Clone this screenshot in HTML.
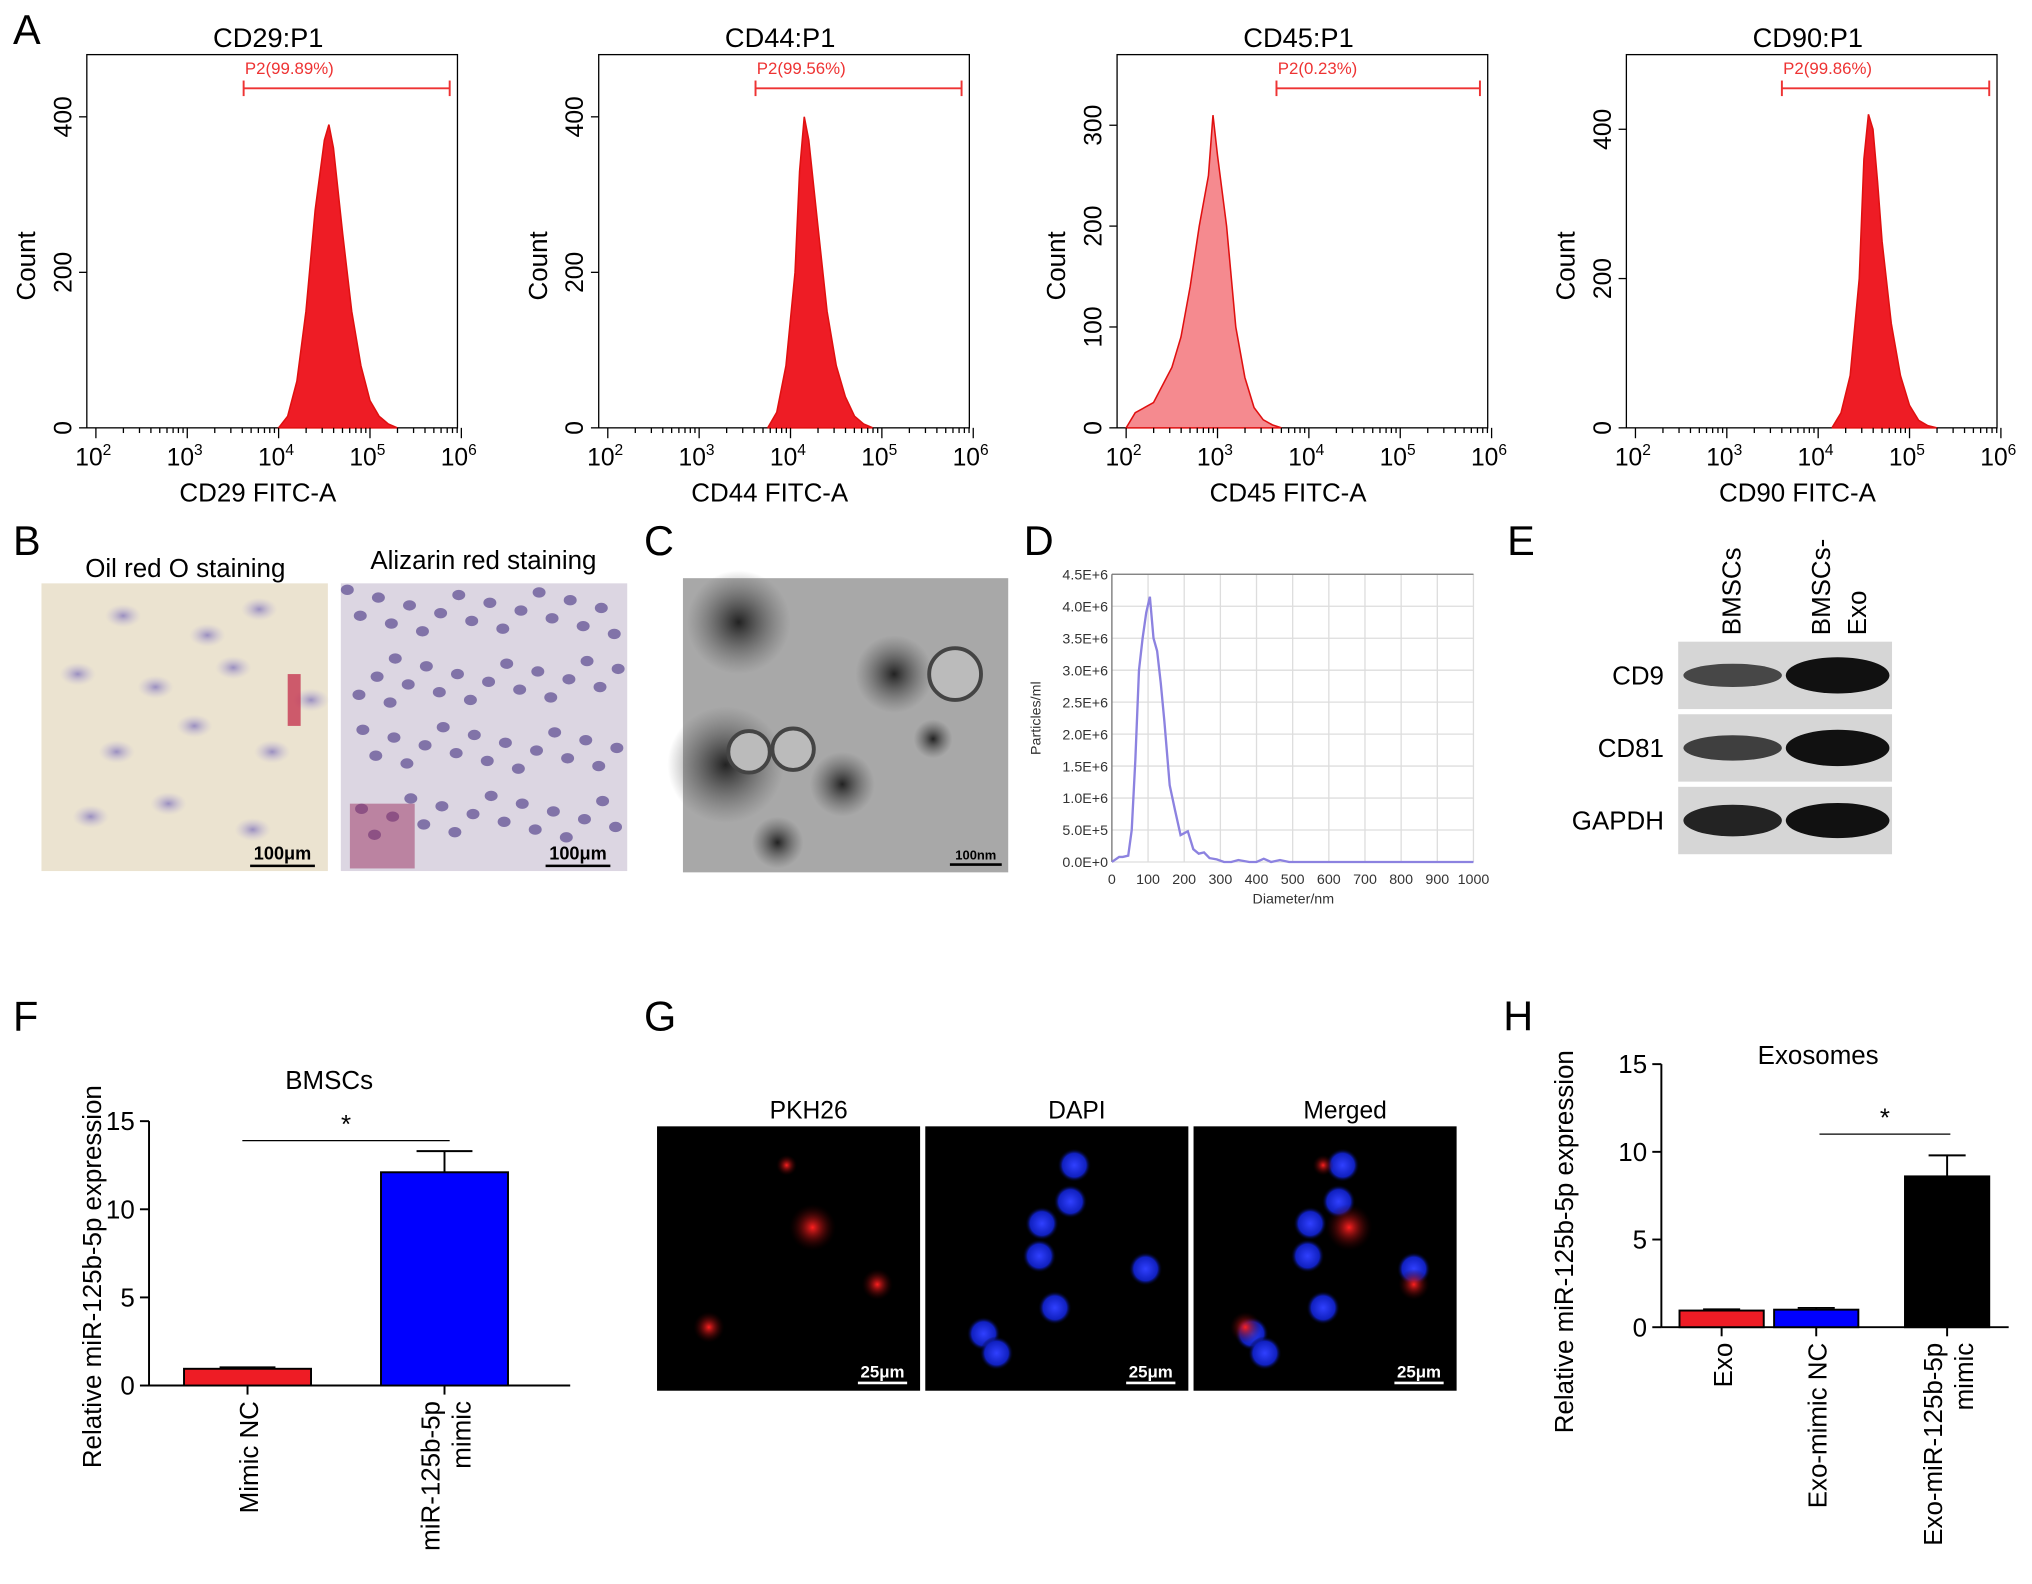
<!DOCTYPE html>
<html><head><meta charset="utf-8"><style>
html,body{margin:0;padding:0;background:#fff;}
svg{display:block;font-family:"Liberation Sans",Arial,sans-serif;}
</style></head><body>
<svg id="fig" width="2032" height="1584" viewBox="0 0 1568 1222" xmlns="http://www.w3.org/2000/svg">
<defs>
<radialGradient id="cellg"><stop offset="0" stop-color="#9a8fc0"/><stop offset="1" stop-color="#c9c0d8" stop-opacity="0"/></radialGradient>
<radialGradient id="dark"><stop offset="0" stop-color="#222"/><stop offset="1" stop-color="#555" stop-opacity="0"/></radialGradient>
<radialGradient id="bluec"><stop offset="0" stop-color="#3040ff"/><stop offset="0.7" stop-color="#1020c0"/><stop offset="1" stop-color="#000" stop-opacity="0"/></radialGradient>
<radialGradient id="redc"><stop offset="0" stop-color="#ff2020"/><stop offset="1" stop-color="#300" stop-opacity="0"/></radialGradient>
</defs>
<g id="root"></g>
</svg>
<script>
// ---------- Panel A data (log10 intensity, counts) ----------
const histNames = ["CD29","CD44","CD45","CD90"];
const histGates = ["P2(99.89%)","P2(99.56%)","P2(0.23%)","P2(99.86%)"];
const histLogX = [
 [4.0,4.1,4.2,4.3,4.4,4.5,4.55,4.6,4.7,4.8,4.9,5.0,5.1,5.2,5.3],
 [3.75,3.85,3.95,4.05,4.1,4.15,4.2,4.3,4.4,4.5,4.6,4.7,4.8,4.9],
 [2.0,2.1,2.3,2.5,2.6,2.7,2.8,2.9,2.95,3.0,3.1,3.2,3.3,3.4,3.5,3.6,3.7],
 [4.15,4.25,4.35,4.45,4.5,4.55,4.6,4.65,4.7,4.8,4.9,5.0,5.1,5.2,5.3]
];
const histCounts = [
 [0,15,60,150,280,370,390,360,250,150,80,35,15,5,0],
 [0,20,80,200,330,400,370,260,150,80,40,15,5,0],
 [0,15,25,60,90,140,200,250,310,270,200,100,50,20,8,3,0],
 [0,20,70,200,360,420,400,330,250,140,70,30,10,3,0]
];
const histYTicks = [[0,200,400],[0,200,400],[0,100,200,300],[0,200,400]];
const histYMax = [480,480,370,500];
const histFill = ["#ee1c25","#ee1c25","#f58a8f","#ee1c25"];

// ---------- Panel D data ----------
const nanoX = [0,20,30,45,55,65,75,85,95,105,115,125,135,145,160,175,190,200,210,225,240,255,270,290,310,330,350,380,400,420,440,465,490,600,800,1000];
const nanoY = [0,0.08,0.08,0.1,0.5,1.6,3.0,3.5,3.9,4.15,3.5,3.3,2.8,2.2,1.2,0.8,0.42,0.45,0.48,0.2,0.13,0.15,0.06,0.04,0,0,0.03,0,0,0.05,0,0.03,0,0,0,0];
const nanoYTicks = ["0.0E+0","5.0E+5","1.0E+6","1.5E+6","2.0E+6","2.5E+6","3.0E+6","3.5E+6","4.0E+6","4.5E+6"];
const nanoXTicks = [0,100,200,300,400,500,600,700,800,900,1000];

// ---------- Panel F data ----------
const fCats = ["Mimic NC","miR-125b-5p|mimic"];
const fVals = [0.95,12.1];
const fErr = [0.08,1.2];
const fColors = ["#ee1c25","#0000ff"];
const fTicks = [0,5,10,15];

// ---------- Panel H data ----------
const hCats = ["Exo","Exo-mimic NC","Exo-miR-125b-5p|mimic"];
const hVals = [0.95,1.0,8.6];
const hErr = [0.07,0.1,1.2];
const hColors = ["#ee1c25","#0000ff","#000000"];
const hTicks = [0,5,10,15];

const NS="http://www.w3.org/2000/svg";
const root=document.getElementById('root');
function el(tag,attrs,parent,text){const e=document.createElementNS(NS,tag);for(const k in attrs)e.setAttribute(k,attrs[k]);if(text!==undefined)e.textContent=text;(parent||root).appendChild(e);return e;}

[["A",10,34],["B",10,428],["C",497,428],["D",790,428],["E",1163,428],["F",10,795],["G",497,795],["H",1160,795]].forEach(p=>{
 const t=el('text',{x:p[1],y:p[2],'font-size':32},root,p[0]);
 
 
});

// ---------- Panel A ----------
const frames=[67,462,862,1255];
for(let i=0;i<4;i++){
 const g=el('g',{});
 
 
 const fx=frames[i], fw=286, top=42, bot=330, x0=fx+7, dec=70.5;
 const xs=v=>x0+(v-2)*dec;
 const ys=c=>bot-c/histYMax[i]*(bot-top);
 el('text',{x:fx+140,y:36,'font-size':21,'text-anchor':'middle'},g,histNames[i]+':P1');
 el('rect',{x:fx,y:top,width:fw,height:bot-top,fill:'none',stroke:'#000','stroke-width':1},g);
 let d='M'+xs(histLogX[i][0])+','+bot;
 histLogX[i].forEach((v,j)=>{d+=' L'+xs(v).toFixed(1)+','+ys(histCounts[i][j]).toFixed(1);});
 d+=' L'+xs(histLogX[i][histLogX[i].length-1])+','+bot+'Z';
 const p=el('path',{d:d,fill:histFill[i],stroke:'#e01010','stroke-width':1.2},g);
 
 
 const gx1=[188,583,985,1375][i], gx2=fx+fw-6;
 el('line',{x1:gx1,y1:68,x2:gx2,y2:68,stroke:'#e33','stroke-width':1.5},g);
 el('line',{x1:gx1,y1:62,x2:gx1,y2:74,stroke:'#e33','stroke-width':1.5},g);
 el('line',{x1:gx2,y1:62,x2:gx2,y2:74,stroke:'#e33','stroke-width':1.5},g);
 el('text',{x:gx1+1,y:57,'font-size':13,fill:'#e33'},g,histGates[i]);
 for(let e=2;e<=6;e++){
  const x=xs(e);
  el('line',{x1:x,y1:bot,x2:x,y2:bot+8,stroke:'#000'},g);
  const t=el('text',{x:x-2,y:bot+29,'font-size':19,'text-anchor':'middle'},g,'10');
  el('tspan',{dy:-8,'font-size':12},t,String(e));
  if(e<6)for(let m=2;m<10;m++){const xm=xs(e+Math.log10(m));el('line',{x1:xm,y1:bot,x2:xm,y2:bot+4,stroke:'#000'},g);}
 }
 el('text',{x:fx+132,y:387,'font-size':20,'text-anchor':'middle'},g,histNames[i]+' FITC-A');
 histYTicks[i].forEach(v=>{const y=ys(v);el('line',{x1:fx-6,y1:y,x2:fx,y2:y,stroke:'#000'},g);
  el('text',{x:fx-12,y:y,'font-size':19,'text-anchor':'middle',transform:`rotate(-90 ${fx-12} ${y})`},g,String(v));});
 el('text',{x:fx-40,y:205,'font-size':20,'text-anchor':'middle',transform:`rotate(-90 ${fx-40} 205)`},g,'Count');
}

// ---------- Panel B ----------
(function(){
 const g=el('g',{});
 el('text',{x:143,y:445,'font-size':20,'text-anchor':'middle'},g,'Oil red O staining');
 el('text',{x:373,y:439,'font-size':20,'text-anchor':'middle'},g,'Alizarin red staining');
 el('rect',{x:32,y:450,width:221,height:222,fill:'#ebe3d0'},g);
 el('rect',{x:263,y:450,width:221,height:222,fill:'#dcd6e2'},g);
 const c1=[[95,475],[160,490],[200,470],[60,520],[120,530],[180,515],[90,580],[150,560],[210,580],[70,630],[130,620],[195,640],[240,540]];
 c1.forEach(c=>el('ellipse',{cx:c[0],cy:c[1],rx:14,ry:9,fill:'url(#cellg)'},g));
 el('rect',{x:222,y:520,width:10,height:40,fill:'#c02040',opacity:.7},g);
 for(let k=0;k<70;k++){const x=268+((k*37)%210),y=455+((k*53)%210);el('ellipse',{cx:x,cy:y,rx:5,ry:4,fill:'#6a5a9a',opacity:.8},g);}
 el('rect',{x:270,y:620,width:50,height:50,fill:'#9a3060',opacity:.5},g);
 [[193,243],[421,471]].forEach(s=>{el('line',{x1:s[0],y1:668,x2:s[1],y2:668,stroke:'#000','stroke-width':2},g);el('text',{x:(s[0]+s[1])/2,y:663,'font-size':14,'font-weight':'bold','text-anchor':'middle'},g,'100μm');});
})();

// ---------- Panel C ----------
(function(){
 const g=el('g',{});
 el('rect',{x:527,y:446,width:251,height:227,fill:'#a8a8a8'},g);
 [[570,480,40],[690,520,30],[560,590,45],[650,605,25],[720,570,15],[600,650,20]].forEach(c=>el('circle',{cx:c[0],cy:c[1],r:c[2],fill:'url(#dark)'},g));
 [[737,520,20],[578,580,16],[612,578,16]].forEach(c=>el('circle',{cx:c[0],cy:c[1],r:c[2],fill:'#bbb',stroke:'#444','stroke-width':3},g));
 el('line',{x1:733,y1:667,x2:773,y2:667,stroke:'#000','stroke-width':2},g);
 el('text',{x:753,y:663,'font-size':10,'font-weight':'bold','text-anchor':'middle'},g,'100nm');
})();

// ---------- Panel D ----------
(function(){
 const g=el('g',{});
 const L=858,R=1137,T=443,B=665;
 const xs=v=>L+v/1000*(R-L), ys=v=>B-v/4.5*(B-T);
 nanoXTicks.forEach(v=>{el('line',{x1:xs(v),y1:T,x2:xs(v),y2:B,stroke:'#ddd'},g);
  el('text',{x:xs(v),y:B+17,'font-size':11,'text-anchor':'middle',fill:'#333'},g,String(v));});
 nanoYTicks.forEach((s,k)=>{const y=ys(k*0.5);el('line',{x1:L,y1:y,x2:R,y2:y,stroke:'#ddd'},g);
  el('text',{x:L-3,y:y+4,'font-size':11,'text-anchor':'end',fill:'#333'},g,s);});
 el('line',{x1:L,y1:T,x2:R,y2:T,stroke:'#777'},g);
 el('line',{x1:L,y1:T,x2:L,y2:B,stroke:'#777'},g);
 let d='';nanoX.forEach((v,j)=>{d+=(j?' L':'M')+xs(v).toFixed(1)+','+ys(nanoY[j]).toFixed(1);});
 const p=el('path',{d:d,fill:'none',stroke:'#8c82e0','stroke-width':1.8},g);
 
 
 el('text',{x:998,y:697,'font-size':11,'text-anchor':'middle',fill:'#333'},g,'Diameter/nm');
 el('text',{x:803,y:554,'font-size':11,'text-anchor':'middle',fill:'#333',transform:'rotate(-90 803 554)'},g,'Particles/ml');
})();

// ---------- Panel E ----------
(function(){
 const g=el('g',{});
 el('text',{x:1343,y:490,'font-size':20,transform:'rotate(-90 1343 490)'},g,'BMSCs');
 el('text',{x:1412,y:490,'font-size':20,transform:'rotate(-90 1412 490)'},g,'BMSCs-');
 el('text',{x:1440,y:490,'font-size':20,transform:'rotate(-90 1440 490)'},g,'Exo');
 [["CD9",495,[0.5,1]],["CD81",551,[0.6,1]],["GAPDH",607,[0.9,0.95]]].forEach(r=>{
  el('rect',{x:1295,y:r[1],width:165,height:52,fill:'#d6d6d6'},g);
  el('ellipse',{cx:1337,cy:r[1]+26,rx:38,ry:5+8*r[2][0],fill:'#111',opacity:.5+.45*r[2][0]},g);
  el('ellipse',{cx:1418,cy:r[1]+26,rx:40,ry:5+9*r[2][1],fill:'#111'},g);
  el('text',{x:1284,y:r[1]+33,'font-size':20,'text-anchor':'end'},g,r[0]);
 });
})();

// ---------- bar chart helper ----------
function barChart(name,cfg){
 const g=el('g',{});
 const ys=v=>cfg.y0-v/15*(cfg.y0-cfg.y15);
 el('line',{x1:cfg.ax,y1:cfg.y15,x2:cfg.ax,y2:cfg.y0,stroke:'#000','stroke-width':1.5},g);
 el('line',{x1:cfg.ax,y1:cfg.y0,x2:cfg.xr,y2:cfg.y0,stroke:'#000','stroke-width':1.5},g);
 cfg.ticks.forEach(v=>{el('line',{x1:cfg.ax-7,y1:ys(v),x2:cfg.ax,y2:ys(v),stroke:'#000','stroke-width':1.5},g);
  el('text',{x:cfg.ax-11,y:ys(v)+7,'font-size':20,'text-anchor':'end'},g,String(v));});
 cfg.vals.forEach((v,i)=>{
  const x=cfg.bx[i],w=cfg.bw,cx=x+w/2;
  const r=el('rect',{x:x,y:ys(v),width:w,height:ys(0)-ys(v),fill:cfg.colors[i],stroke:'#000','stroke-width':1.5},g);
  
  
  const top=ys(v+cfg.err[i]);
  el('line',{x1:cx,y1:ys(v),x2:cx,y2:top,stroke:'#000','stroke-width':1.5},g);
  el('line',{x1:cx-w*0.22,y1:top,x2:cx+w*0.22,y2:top,stroke:'#000','stroke-width':1.5},g);
  el('line',{x1:cx,y1:cfg.y0,x2:cx,y2:cfg.y0+7,stroke:'#000','stroke-width':1.5},g);
  const lines=cfg.cats[i].split('|');
  lines.forEach((s,k)=>{const tx=cx+8+(k-(lines.length-1)/2)*24, ty=cfg.y0+12;
   el('text',{x:tx,y:ty,'font-size':20,'text-anchor':'end',transform:`rotate(-90 ${tx} ${ty})`},g,s);});
 });
 el('line',{x1:cfg.sig[0],y1:cfg.sig[2],x2:cfg.sig[1],y2:cfg.sig[2],stroke:'#000','stroke-width':1},g);
 el('text',{x:(cfg.sig[0]+cfg.sig[1])/2,y:cfg.sig[2]-6,'font-size':20,'text-anchor':'middle'},g,'*');
 el('text',{x:cfg.title[1],y:cfg.title[2],'font-size':20,'text-anchor':'middle'},g,cfg.title[0]);
 el('text',{x:cfg.ylx,y:cfg.yly,'font-size':20,'text-anchor':'middle',transform:`rotate(-90 ${cfg.ylx} ${cfg.yly})`},g,'Relative miR-125b-5p expression');
}
barChart('bar-chart-f',{ax:115,xr:440,y0:1069,y15:865,ticks:fTicks,vals:fVals,err:fErr,colors:fColors,cats:fCats,bx:[142,294],bw:98,sig:[187,347,880],title:['BMSCs',254,840],ylx:78,yly:985});
barChart('bar-chart-h',{ax:1282,xr:1550,y0:1024,y15:821,ticks:hTicks,vals:hVals,err:hErr,colors:hColors,cats:hCats,bx:[1296,1369,1470],bw:65,sig:[1404,1505,875],title:['Exosomes',1403,821],ylx:1214,yly:958});

// ---------- Panel G ----------
(function(){
 const g=el('g',{});
 
 
 const xs=[507,714,921],names=['PKH26','DAPI','Merged'];
 const nuclei=[[115,30],[112,58],[90,75],[88,100],[100,140],[45,160],[55,175],[170,110]];
 const reds=[[120,78,18],[170,122,12],[40,155,12],[100,30,8]];
 xs.forEach((x,i)=>{
  el('rect',{x:x,y:869,width:203,height:204,fill:'#000'},g);
  el('text',{x:x+117,y:863,'font-size':19,'text-anchor':'middle'},g,names[i]);
  if(i>0)nuclei.forEach(n=>el('circle',{cx:x+n[0],cy:869+n[1],r:13,fill:'url(#bluec)'},g));
  if(i!==1)reds.forEach(r=>el('circle',{cx:x+r[0],cy:869+r[1],r:r[2],fill:'url(#redc)'},g));
  el('line',{x1:x+155,y1:1067,x2:x+193,y2:1067,stroke:'#fff','stroke-width':2},g);
  el('text',{x:x+174,y:1063,'font-size':13,'font-weight':'bold',fill:'#fff','text-anchor':'middle'},g,'25μm');
 });
})();
</script>
</body></html>
